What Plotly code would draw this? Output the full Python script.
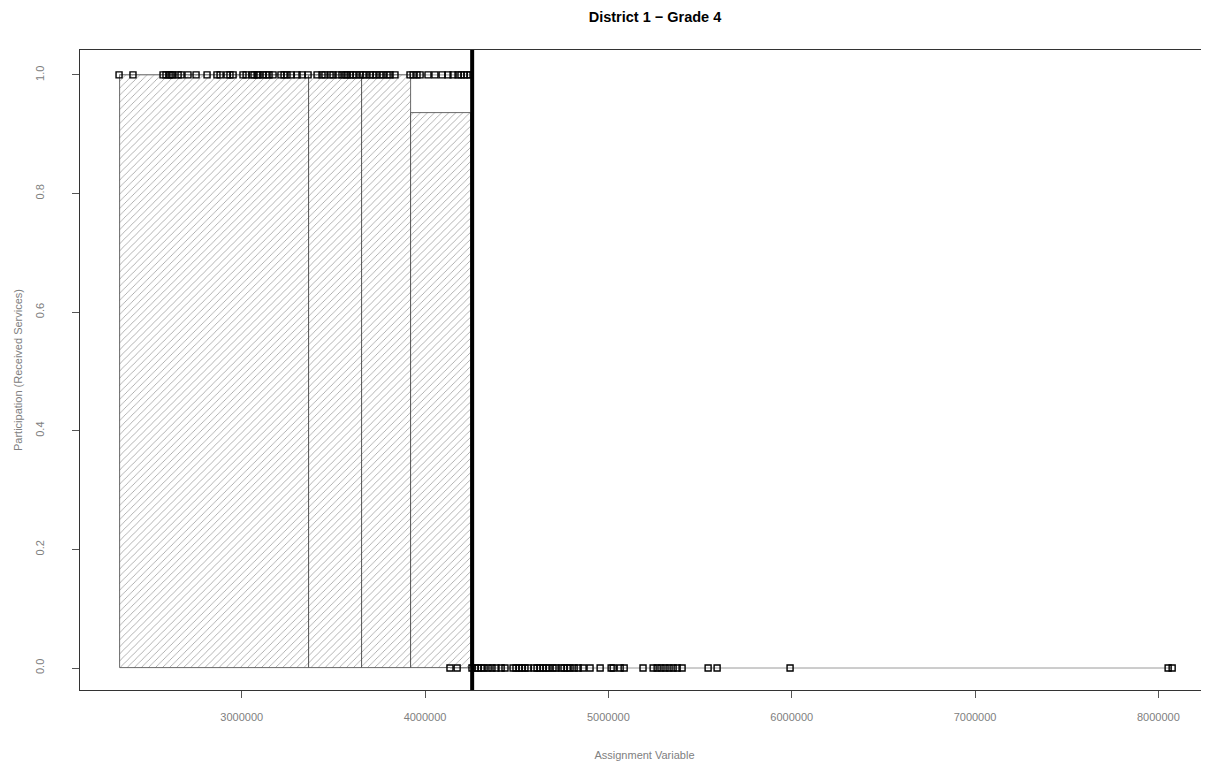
import plotly.graph_objects as go

# ---- data ----
treated_x = [2331000, 2407000, 2571000, 2587000, 2604000, 2614000, 2625000, 2653000, 2669000,
             2707000, 2751000, 2811000, 2865000, 2882000, 2920000, 2936000, 2953000, 3007000,
             3024000, 3056000, 3067000, 3084000, 3094000, 3116000, 3133000, 3149000, 3171000,
             3214000, 3231000, 3247000, 3269000, 3302000, 3329000, 3362000, 3411000, 3438000,
             3454000, 3482000, 3498000, 3525000, 3547000, 3564000, 3574000, 3591000, 3607000,
             3624000, 3645000, 3662000, 3678000, 3700000, 3716000, 3733000, 3754000, 3771000,
             3793000, 3809000, 3836000, 3918000, 3935000, 3956000, 3973000, 4016000, 4054000,
             4093000, 4125000, 4153000, 4180000, 4196000, 4213000, 4229000, 4246000]
treated_y = [1.0] * len(treated_x)

untreated_x = [4136000, 4175000, 4256000, 4273000, 4289000, 4306000, 4322000, 4344000, 4365000,
               4387000, 4415000, 4436000, 4480000, 4496000, 4513000, 4529000, 4545000, 4562000,
               4595000, 4611000, 4627000, 4644000, 4660000, 4676000, 4698000, 4715000, 4742000,
               4758000, 4775000, 4791000, 4813000, 4835000, 4862000, 4900000, 4955000, 5015000,
               5026000, 5064000, 5086000, 5189000, 5244000, 5266000, 5287000, 5309000, 5331000,
               5353000, 5375000, 5402000, 5544000, 5593000, 5991000, 8053000, 8075000]
untreated_y = [0.0] * len(untreated_x)

bin_edges = [2335000, 3367000, 3656000, 3924000, 4251000]
bin_heights = [1.0, 1.0, 1.0, 0.935]
cutoff = 4257000

x_ticks = [3000000, 4000000, 5000000, 6000000, 7000000, 8000000]
y_ticks = [0.0, 0.2, 0.4, 0.6, 0.8, 1.0]

# ---- figure ----
centers = [(bin_edges[i] + bin_edges[i + 1]) / 2 for i in range(len(bin_heights))]
widths = [bin_edges[i + 1] - bin_edges[i] for i in range(len(bin_heights))]

fig = go.Figure()
fig.add_trace(go.Bar(
    x=centers, y=bin_heights, width=widths,
    marker=dict(color="white",
                line=dict(color="#444444", width=0.8),
                pattern=dict(shape="/", fgcolor="#333333", bgcolor="white",
                             size=5, solidity=0.15)),
    showlegend=False, hoverinfo="skip"))

fig.add_trace(go.Scatter(
    x=untreated_x, y=untreated_y, mode="lines+markers",
    line=dict(color="#9a9a9a", width=1),
    marker=dict(symbol="square-open", size=6, color="black", line=dict(color="black", width=1.4)),
    showlegend=False))
fig.add_trace(go.Scatter(
    x=treated_x, y=treated_y, mode="lines+markers",
    line=dict(color="#9a9a9a", width=1),
    marker=dict(symbol="square-open", size=6, color="black", line=dict(color="black", width=1.4)),
    showlegend=False))

fig.add_vline(x=cutoff, line=dict(color="black", width=4))

fig.update_layout(
    width=1201, height=760,
    margin=dict(l=72, r=0, t=42, b=78),
    paper_bgcolor="white", plot_bgcolor="white",
    bargap=0,
    title=dict(text="<b>District 1 − Grade 4</b>", x=647 / 1201, xanchor="center",
               y=1 - 9 / 760, yanchor="middle",
               font=dict(family="Liberation Sans, Arial", size=14.5, color="black")),
    font=dict(family="Liberation Sans, Arial", size=11, color="#808080"),
)
fig.update_xaxes(
    range=[2118000, 8276000],
    tickvals=x_ticks, ticktext=[str(v) for v in x_ticks],
    ticks="outside", ticklen=7, tickcolor="#555555",
    ticklabelstandoff=10,
    showline=True, linecolor="#333333", linewidth=1, mirror=True,
    showgrid=False, zeroline=False,
    title=dict(text="Assignment Variable", standoff=29,
               font=dict(size=11, color="#808080")),
)
fig.update_yaxes(
    range=[-0.0371, 1.042],
    tickvals=y_ticks, ticktext=["%.1f" % v for v in y_ticks],
    tickangle=-90,
    ticks="outside", ticklen=7, tickcolor="#555555",
    ticklabelstandoff=24,
    showline=True, linecolor="#333333", linewidth=1, mirror=False,
    showgrid=False, zeroline=False,
    title=dict(text="Participation (Received Services)", standoff=8,
               font=dict(size=11, color="#808080")),
)

fig.write_html("out.html")
